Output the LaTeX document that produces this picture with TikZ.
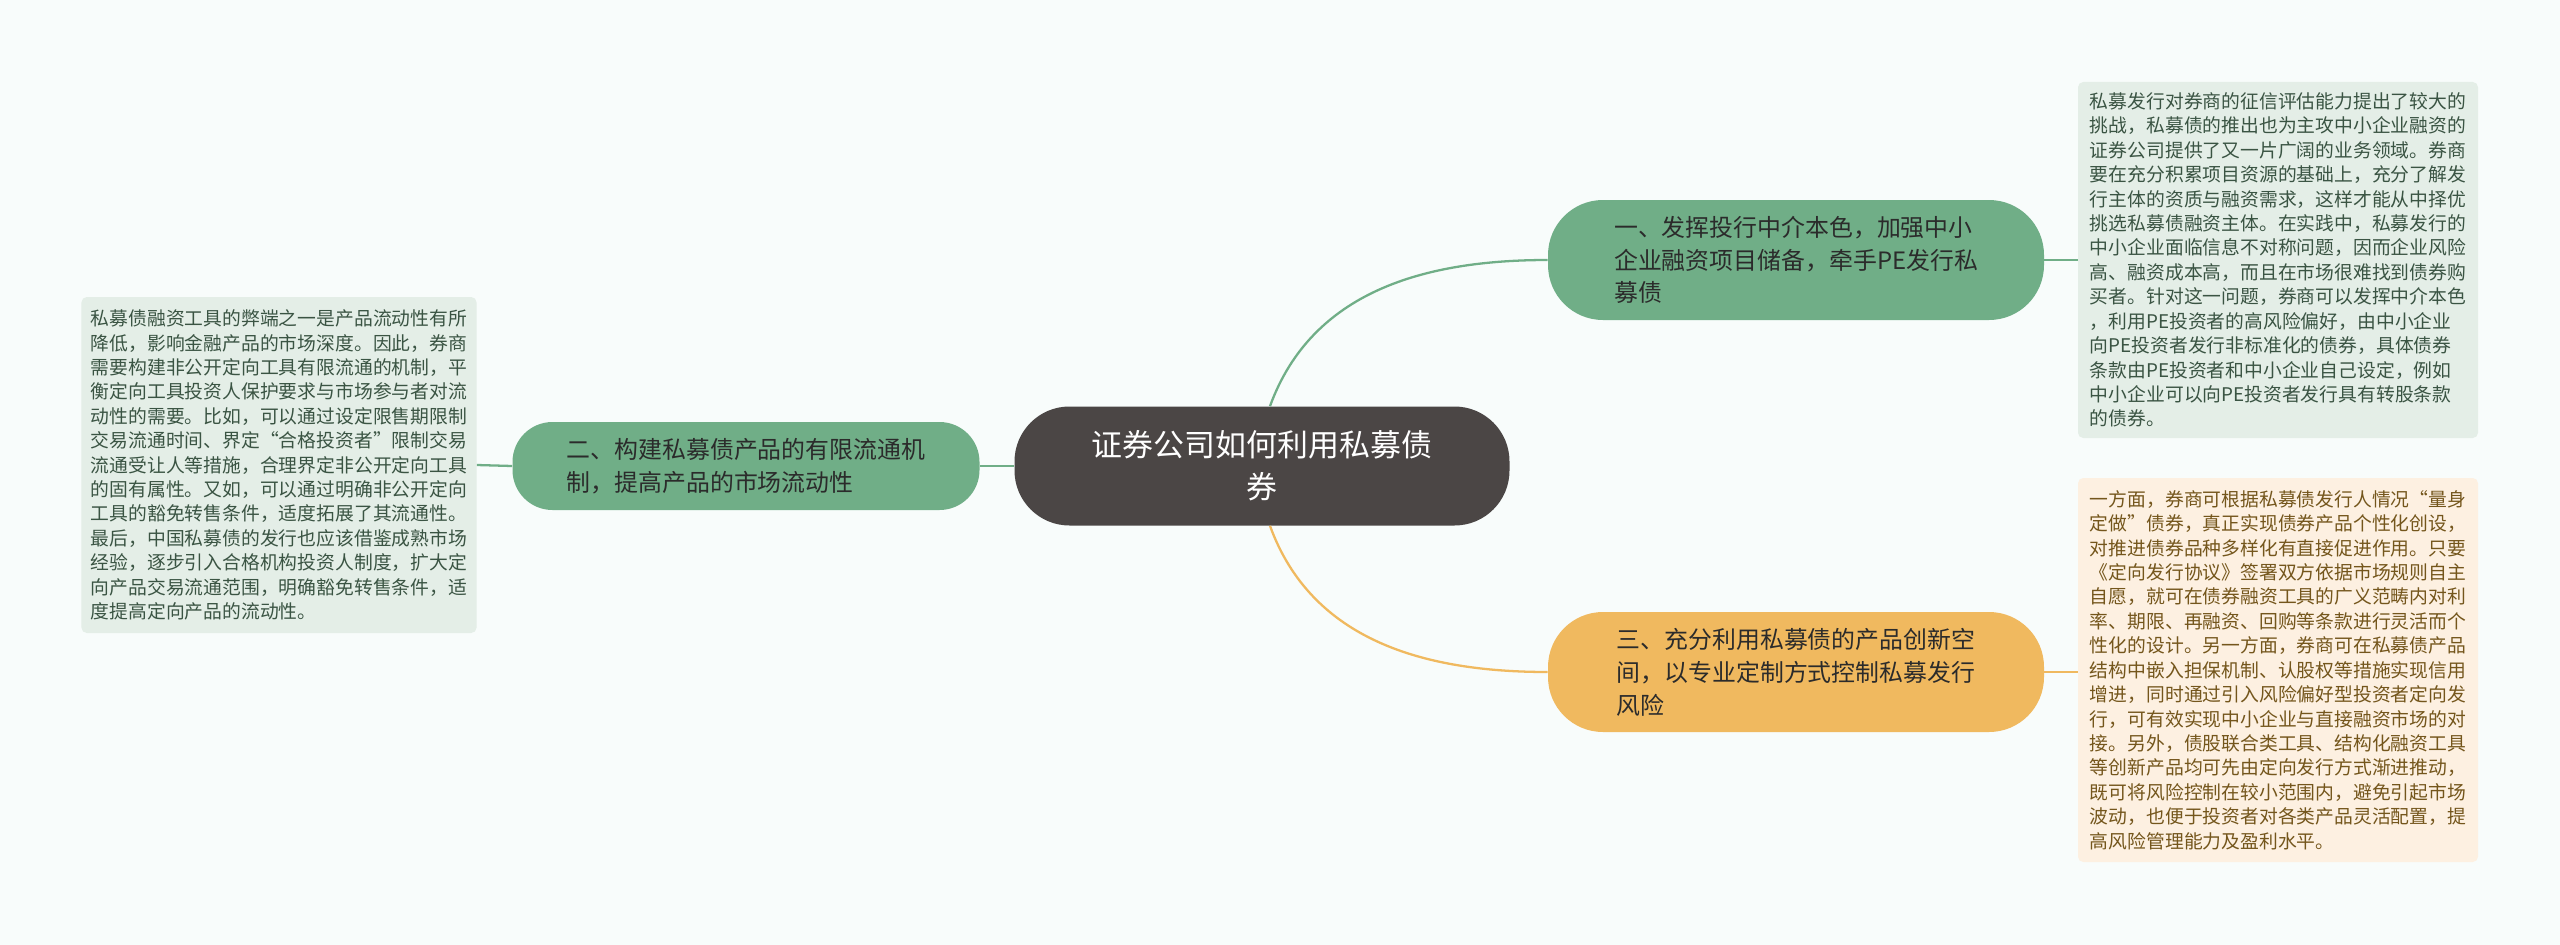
\documentclass[tikz,border=0pt]{standalone}
\usepackage{fontspec}
\setmainfont{Noto Sans CJK SC}
\usepackage{tikz}
\usetikzlibrary{positioning}
\usepackage{xcolor}

\definecolor{bgc}{HTML}{F8FCFB}
\definecolor{rootc}{HTML}{4B4645}
\definecolor{brgreen}{HTML}{70AE87}
\definecolor{brorange}{HTML}{F0B95F}
\definecolor{brtext}{HTML}{2B2B2B}
\definecolor{notegreen}{HTML}{E4EEE7}
\definecolor{notegtxt}{HTML}{3A5443}
\definecolor{noteorange}{HTML}{FDF0E1}
\definecolor{noteotxt}{HTML}{74561C}

\begin{document}
\begin{tikzpicture}[
      x=0.2mm, y=-0.2mm,
      root/.style={fill=rootc,rounded corners=1.1cm,minimum width=9.9cm,
                   minimum height=2.38cm,align=center,text=white,
                   font=\fontsize{17.6}{23.8}\selectfont},
      brg/.style={fill=brgreen,rounded corners=1.1cm,minimum width=9.92cm,
                  minimum height=2.4cm,align=left,text=brtext,
                  font=\fontsize{13.6}{18.7}\selectfont},
      bro/.style={brg,fill=brorange},
      notg/.style={fill=notegreen,rounded corners=3pt,minimum width=8cm,
                   align=left,text=notegtxt,font=\fontsize{10.7}{13.9}\selectfont},
      noto/.style={notg,fill=noteorange,text=noteotxt},
      lnk/.style={line width=1.3pt},
    ]

    % ── Background ─────────────────────────────────────────────────────────
    \fill[bgc] (0,0) rectangle (2560,945);
    \useasboundingbox (0,0) rectangle (2560,945);

    % ── Root ───────────────────────────────────────────────────────────────
    \node[root] (root) at (1262,466) {证券公司如何利用私募债\\券};

    % ── Branches ───────────────────────────────────────────────────────────
    \node[brg] (br1) at (1796,260)
      {一、发挥投行中介本色，加强中小\\企业融资项目储备，牵手PE发行私\\募债};
    \node[brg,minimum width=9.34cm,minimum height=1.76cm,rounded corners=0.8cm]
      (br2) at (746,466) {二、构建私募债产品的有限流通机\\制，提高产品的市场流动性};
    \node[bro] (br3) at (1796,672)
      {三、充分利用私募债的产品创新空\\间，以专业定制方式控制私募发行\\风险};

    % ── Notes ──────────────────────────────────────────────────────────────
    \node[notg,minimum height=7.12cm] (note1) at (2278,260) {%
      私募发行对券商的征信评估能力提出了较大的\\
      挑战，私募债的推出也为主攻中小企业融资的\\
      证券公司提供了又一片广阔的业务领域。券商\\
      要在充分积累项目资源的基础上，充分了解发\\
      行主体的资质与融资需求，这样才能从中择优\\
      挑选私募债融资主体。在实践中，私募发行的\\
      中小企业面临信息不对称问题，因而企业风险\\
      高、融资成本高，而且在市场很难找到债券购\\
      买者。针对这一问题，券商可以发挥中介本色\\
      ，利用PE投资者的高风险偏好，由中小企业\\
      向PE投资者发行非标准化的债券，具体债券\\
      条款由PE投资者和中小企业自己设定，例如\\
      中小企业可以向PE投资者发行具有转股条款\\
      的债券。};
    \node[notg,minimum width=7.9cm,minimum height=6.72cm] (note2) at (279,465) {%
      私募债融资工具的弊端之一是产品流动性有所\\
      降低，影响金融产品的市场深度。因此，券商\\
      需要构建非公开定向工具有限流通的机制，平\\
      衡定向工具投资人保护要求与市场参与者对流\\
      动性的需要。比如，可以通过设定限售期限制\\
      交易流通时间、界定“合格投资者”限制交易\\
      流通受让人等措施，合理界定非公开定向工具\\
      的固有属性。又如，可以通过明确非公开定向\\
      工具的豁免转售条件，适度拓展了其流通性。\\
      最后，中国私募债的发行也应该借鉴成熟市场\\
      经验，逐步引入合格机构投资人制度，扩大定\\
      向产品交易流通范围，明确豁免转售条件，适\\
      度提高定向产品的流动性。};
    \node[noto,minimum height=7.68cm] (note3) at (2278,670) {%
      一方面，券商可根据私募债发行人情况“量身\\
      定做”债券，真正实现债券产品个性化创设，\\
      对推进债券品种多样化有直接促进作用。只要\\
      《定向发行协议》签署双方依据市场规则自主\\
      自愿，就可在债券融资工具的广义范畴内对利\\
      率、期限、再融资、回购等条款进行灵活而个\\
      性化的设计。另一方面，券商可在私募债产品\\
      结构中嵌入担保机制、认股权等措施实现信用\\
      增进，同时通过引入风险偏好型投资者定向发\\
      行，可有效实现中小企业与直接融资市场的对\\
      接。另外，债股联合类工具、结构化融资工具\\
      等创新产品均可先由定向发行方式渐进推动，\\
      既可将风险控制在较小范围内，避免引起市场\\
      波动，也便于投资者对各类产品灵活配置，提\\
      高风险管理能力及盈利水平。};

    % ── Connectors ─────────────────────────────────────────────────────────
    \draw[lnk,brgreen]  ([xshift=0.16cm]root.north) to[out=70,in=180] (br1.west);
    \draw[lnk,brgreen]  (root.west) -- (br2.east);
    \draw[lnk,brorange] ([xshift=0.16cm]root.south) to[out=-70,in=180] (br3.west);

    \draw[lnk,brgreen]  (br1.east) -- (note1.west);
    \draw[lnk,brgreen]  (br2.west) -- (note2.east);
    \draw[lnk,brorange] (br3.east) -- (br3.east -| note3.west);

  \end{tikzpicture}
\end{document}
